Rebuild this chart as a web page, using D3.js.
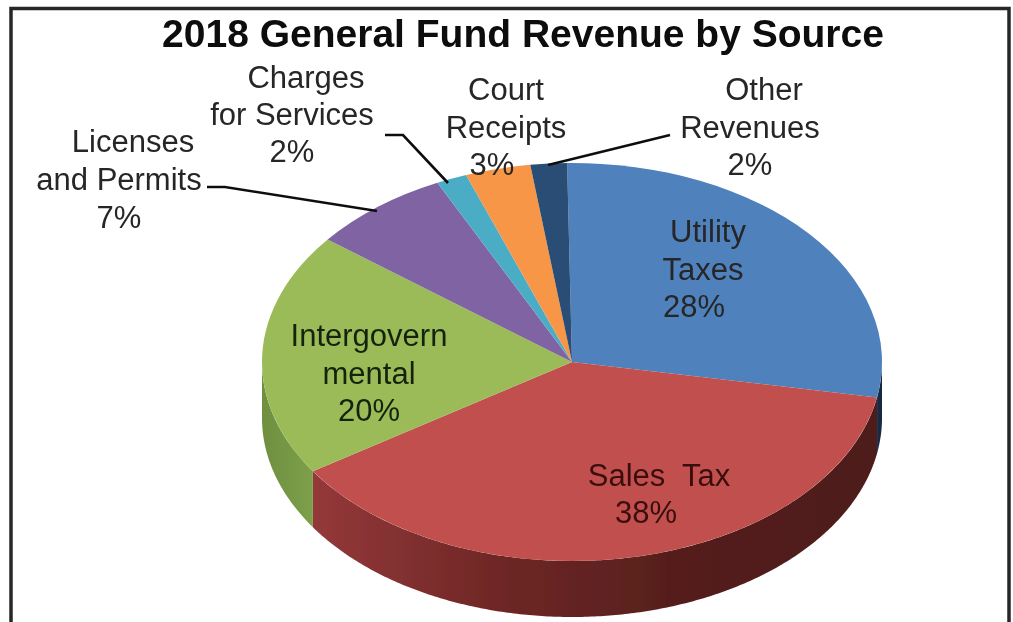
<!DOCTYPE html>
<html>
<head>
<meta charset="utf-8">
<script src="https://cdn.jsdelivr.net/npm/d3@7"></script>
<style>
  html, body { margin: 0; padding: 0; background: #fff; overflow: hidden; }
  text { font-family: "Liberation Sans", Arial, sans-serif; white-space: pre; }
</style>
</head>
<body>
<svg id="chart" width="1013" height="622"></svg>
<script>
  var title = "2018 General Fund Revenue by Source";

  // order is clockwise from 12 o'clock
  var categories = ["Utility Taxes", "Sales Tax", "Intergovernmental", "Licenses and Permits",
    "Charges for Services", "Court Receipts", "Other Revenues"];
  // the printed labels are rounded
  var shares = [28.1, 37.9, 19.8, 7.3, 1.6, 3.4, 1.9];
  var topColors = ["#4f81bd", "#c0504d", "#9bbb59", "#8064a2", "#4bacc6", "#f79646", "#2c4d75"];
  var wallColors = {
    "Utility Taxes": ["#1b2f4a", "#16263c"],
    "Sales Tax": ["#94383a", "#6e2725", "#541e1c", "#4f1c1a"],
    "Intergovernmental": ["#6f8f40", "#7ca04a"]
  };
  var labelLines = [
    ["Utility", "Taxes", "28%"],
    ["Sales  Tax", "38%"],
    ["Intergovern", "mental", "20%"],
    ["Licenses", "and Permits", "7%"],
    ["Charges", "for Services", "2%"],
    ["Court", "Receipts", "3%"],
    ["Other", "Revenues", "2%"]
  ];

  var width = 1013, height = 622;
  var cx = 572, cy = 362, rx = 310, ry = 199, depth = 56;
  var startAngle = -0.9 * Math.PI / 180;

  // label layout: one centre x per line, first baseline, line step
  var labelLayout = [
    {xs: [708, 703, 694], y: 242, step: 37.5},
    {xs: [659, 646], y: 486, step: 37},
    {xs: [369, 369, 369], y: 346, step: 37.5},
    {xs: [133, 119, 119], y: 152, step: 38},
    {xs: [306, 292, 292], y: 88, step: 37},
    {xs: [506, 506, 492], y: 100, step: 37.5},
    {xs: [764, 750, 750], y: 100, step: 37.5}
  ];
  var leaders = [
    [[207, 187], [225, 187], [377, 211]],
    [[385, 135], [403, 135], [448, 183]],
    [[670, 135], [548, 165]]
  ];

  var svg = d3.select("#chart");
  var defs = svg.append("defs");

  // the reference is a soft scan
  defs.append("filter").attr("id", "soft")
    .append("feGaussianBlur").attr("stdDeviation", 0.55);
  var root = svg.append("g").attr("filter", "url(#soft)");

  root.append("rect")
    .attr("width", width).attr("height", height).attr("fill", "#fff");

  // frame
  root.append("rect")
    .attr("x", 11).attr("y", 8.5)
    .attr("width", 998).attr("height", 640)
    .attr("fill", "none").attr("stroke", "#262626").attr("stroke-width", 3.5);

  root.append("text")
    .attr("x", 523).attr("y", 47)
    .attr("text-anchor", "middle")
    .attr("font-size", 39).attr("font-weight", "bold").attr("fill", "#0a0a0a")
    .text(title);

  var pie = d3.pie().sort(null).value(function (d) { return d; })
    .startAngle(startAngle).endAngle(startAngle + 2 * Math.PI);
  var slices = pie(shares);
  var arc = d3.arc().innerRadius(0).outerRadius(rx);

  function rimX(a) { return cx + rx * Math.sin(a); }
  function rimY(a) { return cy - ry * Math.cos(a); }

  // side wall, only the part of the rim facing the viewer
  var wall = root.append("g");
  var wallArea = d3.area()
    .x(function (a) { return rimX(a); })
    .y0(function (a) { return rimY(a); })
    .y1(function (a) { return rimY(a) + depth; });

  slices.forEach(function (s, i) {
    var name = categories[i];
    var from = Math.max(s.startAngle, Math.PI / 2);
    var to = Math.min(s.endAngle, Math.PI * 1.5);
    if (from >= to || !wallColors[name]) return;

    var id = "wall" + i;
    var grad = defs.append("linearGradient")
      .attr("id", id)
      .attr("gradientUnits", "userSpaceOnUse")
      .attr("x1", rimX(to))
      .attr("x2", rimX(from))
      .attr("y1", 0).attr("y2", 0);
    wallColors[name].forEach(function (c, j, list) {
      grad.append("stop").attr("offset", j / (list.length - 1)).attr("stop-color", c);
    });

    var angles = d3.range(from, to, 0.01).concat([to]);
    wall.append("path")
      .datum(angles)
      .attr("d", wallArea)
      .attr("fill", "url(#" + id + ")");
  });

  // top face
  root.append("g")
    .attr("transform", "translate(" + cx + "," + cy + ") scale(1," + (ry / rx) + ")")
    .selectAll("path")
    .data(slices)
    .enter().append("path")
    .attr("d", arc)
    .attr("fill", function (d, i) { return topColors[i]; });

  // leader lines
  var line = d3.line();
  root.append("g").selectAll("path")
    .data(leaders)
    .enter().append("path")
    .attr("d", line)
    .attr("fill", "none")
    .attr("stroke", "#111")
    .attr("stroke-width", 2.6);

  // labels
  labelLines.forEach(function (lines, i) {
    var pos = labelLayout[i];
    root.append("g").selectAll("text")
      .data(lines)
      .enter().append("text")
      .attr("x", function (d, j) { return pos.xs[j]; })
      .attr("y", function (d, j) { return pos.y + j * pos.step; })
      .attr("text-anchor", "middle")
      .attr("font-size", 31)
      .attr("fill", i === 1 ? "#3a0f0f" : (i === 2 ? "#14240a" : "#262626"))
      .text(function (d) { return d; });
  });
</script>
</body>
</html>
